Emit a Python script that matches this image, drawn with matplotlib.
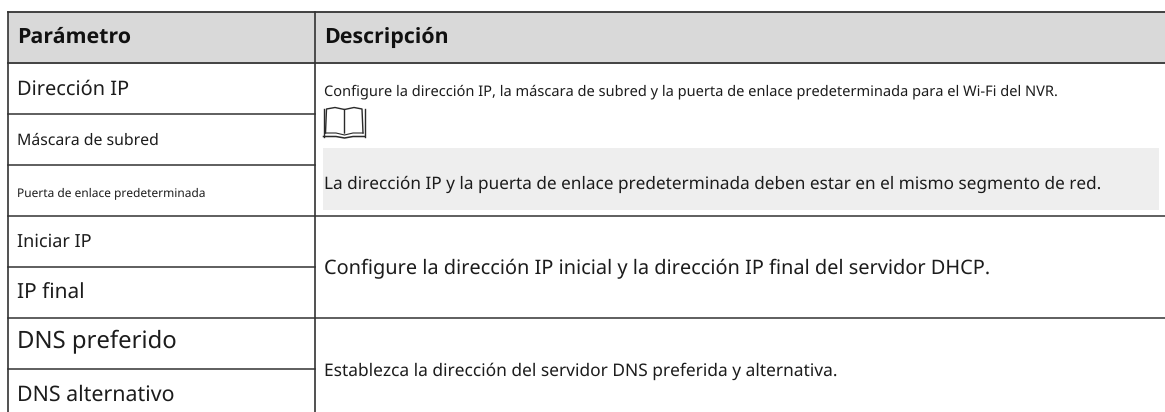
import matplotlib
matplotlib.use('Agg')
import matplotlib.pyplot as plt
from matplotlib.patches import Rectangle

plt.rcParams['font.family'] = ['Noto Sans', 'DejaVu Sans']
plt.rcParams['text.hinting'] = 'no_hinting'

W, H = 1165, 412

headers = ['Parámetro', 'Descripción']
params = ['Dirección IP', 'Máscara de subred', 'Puerta de enlace predeterminada',
          'Iniciar IP', 'IP final', 'DNS preferido', 'DNS alternativo']
param_sizes = [14.4, 11.4, 8.6, 13.0, 15.0, 17.2, 15.4]
row_lines = [62.5, 113.5, 164.5, 215.5, 266.5, 317.5, 368.5]
param_y = [90, 141, 193, 242, 293, 342.5, 395]

desc_1 = 'Configure la dirección IP, la máscara de subred y la puerta de enlace predeterminada para el Wi-Fi del NVR.'
note = 'La dirección IP y la puerta de enlace predeterminada deben estar en el mismo segmento de red.'
desc_2 = 'Configure la dirección IP inicial y la dirección IP final del servidor DHCP.'
desc_3 = 'Establezca la dirección del servidor DNS preferida y alternativa.'

fig = plt.figure(figsize=(W / 100, H / 100), dpi=100)
ax = fig.add_axes([0, 0, 1, 1])
ax.set_xlim(0, W)
ax.set_ylim(H, 0)
ax.axis('off')

line_col = '#333333'
txt_col = '#1c1c1c'

# header band and note box
ax.add_patch(Rectangle((8, 12), W - 8, 50, fc='#d9d9d9', ec='none'))
ax.add_patch(Rectangle((323, 148), 836, 62, fc='#eeeeee', ec='none'))

# grid
ax.plot([8, W], [12, 12], color=line_col, lw=1.3)
ax.plot([8, W], [62.5, 62.5], color=line_col, lw=1.3)
for y in row_lines[1:]:
    x1 = W if y in (215.5, 317.5) else 315
    ax.plot([8, x1], [y, y], color=line_col, lw=1.1)
ax.plot([8, 8], [12, H], color=line_col, lw=1.2)
ax.plot([315, 315], [12, H], color=line_col, lw=1.2)

# header text, Noto Sans has no bold face here
ax.text(17, 37, headers[0], fontsize=15.4, fontweight='bold', family=['Open Sans', 'DejaVu Sans'], va='center', color='#111111')
ax.text(324, 37, headers[1], fontsize=15.4, fontweight='bold', family=['Open Sans', 'DejaVu Sans'], va='center', color='#111111')

for name, size, y in zip(params, param_sizes, param_y):
    ax.text(17, y, name, fontsize=size, va='center', color=txt_col)

ax.text(324, 91.5, desc_1, fontsize=10.53, va='center', color=txt_col)
ax.text(324, 184.5, note, fontsize=12.4, va='center', color=txt_col)
ax.text(324, 269, desc_2, fontsize=14.36, va='center', color=txt_col)
ax.text(324, 371, desc_3, fontsize=12.5, va='center', color=txt_col)

# book icon
book = '#2a2a2a'
ax.plot([325.5, 326.5, 335, 344.5, 344.5], [133, 109, 107.5, 109.5, 133], color=book, lw=1.0)
ax.plot([363, 362, 354, 344.5], [133, 109, 107.5, 109.5], color=book, lw=1.0)
ax.plot([364.5, 364.5], [109, 136.5], color=book, lw=1.0)
ax.plot([323.5, 323.5], [109, 136.5], color=book, lw=1.0)
ax.plot([323.5, 336, 344.5, 353, 364.5], [136.5, 136.5, 138, 136.5, 136.5], color=book, lw=1.1)
ax.plot([325.5, 336, 344.5, 353, 363], [133, 133, 135, 133, 133], color=book, lw=0.8)

fig.savefig('out.png', dpi=100)
